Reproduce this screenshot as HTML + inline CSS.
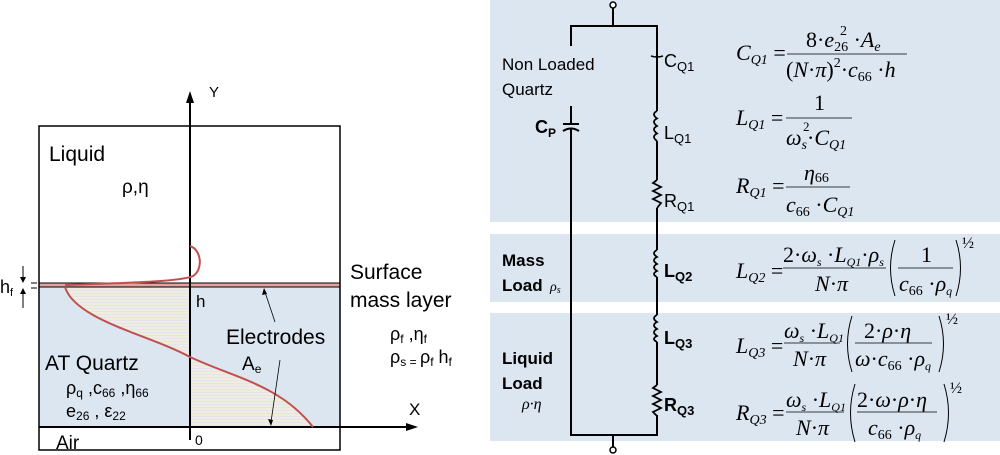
<!DOCTYPE html>
<html><head><meta charset="utf-8"><style>
html,body{margin:0;padding:0;background:#fff;}
svg{display:block;}
.s{font-family:"Liberation Sans",sans-serif;}
.m{font-family:"Liberation Serif",serif;font-style:italic;}
.n{font-family:"Liberation Serif",serif;font-style:normal;}
</style></head><body>
<svg width="1000" height="455" viewBox="0 0 1000 455" xmlns="http://www.w3.org/2000/svg">
<defs>
<pattern id="hat" width="4" height="3" patternUnits="userSpaceOnUse"><rect width="4" height="3" fill="#efece0"/><rect y="2" width="4" height="1" fill="#e4e4ea"/></pattern>
</defs>
<!-- LEFT PANEL -->
<rect x="39" y="287" width="301" height="140" fill="#dce6f1"/>
<path d="M65,287 C75,320 150,335 190,357 L190,287 Z" fill="url(#hat)"/>
<path d="M190,357 C235,378 280,385 313,427 L190,427 Z" fill="url(#hat)"/>
<rect x="39" y="283" width="301" height="4" fill="#e3a3a3"/>
<rect x="39" y="126" width="301" height="324" fill="none" stroke="#000" stroke-width="1.5"/>
<line x1="39" y1="283" x2="340" y2="283" stroke="#000" stroke-width="1"/>
<line x1="39" y1="287" x2="340" y2="287" stroke="#000" stroke-width="1"/>
<line x1="39" y1="427" x2="410" y2="427" stroke="#000" stroke-width="2"/>
<path d="M418,427 L406,423 L406,431 Z"/>
<line x1="190" y1="100" x2="190" y2="440" stroke="#000" stroke-width="2"/>
<path d="M190,91 L186,103 L194,103 Z"/>
<path d="M65,287 C75,320 150,335 190,357 C235,378 280,385 313,427" fill="none" stroke="#c0504d" stroke-width="2"/>
<path d="M65,285 C120,283 180,282 193,276 C203,270 202,250 190,246" fill="none" stroke="#c0504d" stroke-width="2"/>
<!-- hf marks -->
<line x1="31" y1="283" x2="37" y2="283" stroke="#000"/><line x1="31" y1="288" x2="37" y2="288" stroke="#000"/>
<line x1="23" y1="266" x2="23" y2="282" stroke="#000"/><path d="M23,283 L20,277 L26,277 Z"/>
<line x1="23" y1="289" x2="23" y2="308" stroke="#000"/><path d="M23,288 L20,294 L26,294 Z"/>
<text x="0" y="293" class="s" style="font-size:18px">h<tspan style="font-size:11px" dy="3">f</tspan></text>
<!-- electrode arrows -->
<line x1="275" y1="322" x2="265" y2="292" stroke="#000" stroke-width="0.8"/><path d="M264,288 L262,295 L267,294 Z"/>
<line x1="280" y1="360" x2="271" y2="422" stroke="#000" stroke-width="0.8"/><path d="M271,426 L268,419 L273,420 Z"/>
<text x="209" y="97" class="s" style="font-size:15px">Y</text>
<text x="409" y="415" class="s" style="font-size:17px">X</text>
<text x="49" y="161" class="s" style="font-size:21px">Liquid</text>
<text x="122" y="193" class="s" style="font-size:19px">ρ,η</text>
<text x="350" y="279" class="s" style="font-size:21px">Surface</text>
<text x="350" y="307" class="s" style="font-size:21px">mass layer</text>
<text x="390" y="340" class="s" style="font-size:18px">ρ<tspan style="font-size:12px" dy="3">f</tspan><tspan dy="-3"> ,η</tspan><tspan style="font-size:12px" dy="3">f</tspan></text>
<text x="390" y="363" class="s" style="font-size:18px">ρ<tspan style="font-size:12px" dy="3">s = </tspan><tspan dy="-3">ρ</tspan><tspan style="font-size:12px" dy="3">f</tspan><tspan dy="-3"> h</tspan><tspan style="font-size:12px" dy="3">f</tspan></text>
<text x="196" y="307" class="s" style="font-size:17px">h</text>
<text x="226" y="344" class="s" style="font-size:21px">Electrodes</text>
<text x="242" y="370" class="s" style="font-size:19px">A<tspan style="font-size:12px" dy="3">e</tspan></text>
<text x="45" y="370" class="s" style="font-size:21px">AT Quartz</text>
<text x="66" y="394" class="s" style="font-size:18px">ρ<tspan style="font-size:12px" dy="3">q</tspan><tspan dy="-3"> ,c</tspan><tspan style="font-size:12px" dy="3">66</tspan><tspan dy="-3"> ,η</tspan><tspan style="font-size:12px" dy="3">66</tspan></text>
<text x="66" y="417" class="s" style="font-size:18px">e<tspan style="font-size:12px" dy="3">26</tspan><tspan dy="-3"> , ε</tspan><tspan style="font-size:12px" dy="3">22</tspan></text>
<text x="56" y="449" class="s" style="font-size:19px">Air</text>
<text x="195" y="445" class="s" style="font-size:14px">0</text>

<!-- RIGHT PANEL -->
<rect x="490" y="0" width="510" height="222" fill="#dce6f1"/>
<rect x="490" y="234" width="510" height="68" fill="#dce6f1"/>
<rect x="490" y="313" width="510" height="128" fill="#dce6f1"/>
<g stroke="#000" stroke-width="2" fill="none">
<line x1="613" y1="8" x2="613" y2="26"/>
<line x1="613" y1="435" x2="613" y2="447"/>
<path d="M571,46 L571,26 L657,26 L657,57"/>
<path d="M657,57 L657,111"/>
<path d="M571,106 L571,124"/>
<line x1="563" y1="124" x2="579" y2="124"/>
<path d="M563,131 Q571,126 579,131"/>
<path d="M571,128 L571,435 L657,435 L657,415"/>
<path d="M651,56 Q657,58 663,56" stroke-width="1.5"/>
<path d="M657,141 L657,180"/><path d="M657,208 L657,250"/><path d="M657,277 L657,315"/><path d="M657,342 L657,385"/>
</g>
<circle cx="613" cy="5" r="3" fill="#fff" stroke="#000" stroke-width="1.5"/>
<circle cx="613" cy="450" r="3" fill="#fff" stroke="#000" stroke-width="1.5"/>
<g stroke="#000" stroke-width="1.8" fill="none">
<path d="M657,111 q-6,3 0,7.5 q-6,3 0,7.5 q-6,3 0,7.5 q-6,3 0,7.5"/>
<path d="M657,250 q-6,3 0,7 q-6,3 0,7 q-6,3 0,7 q-6,3 0,6"/>
<path d="M657,315 q-6,3 0,7 q-6,3 0,7 q-6,3 0,7 q-6,3 0,6"/>
<path d="M657,180 l-4,3 l8,4 l-8,4 l8,4 l-8,4 l8,4 l-4,5"/>
<path d="M657,385 l-4,3 l8,4 l-8,4 l8,4 l-8,4 l8,4 l-8,4 l4,4"/>
</g>
<text x="664" y="67" class="s" style="font-size:18px">C<tspan style="font-size:13px" dy="4">Q1</tspan></text>
<text x="664" y="139" class="s" style="font-size:18px">L<tspan style="font-size:13px" dy="4">Q1</tspan></text>
<text x="664" y="207" class="s" style="font-size:18px">R<tspan style="font-size:13px" dy="4">Q1</tspan></text>
<text x="664" y="277" class="s" style="font-size:18px;font-weight:bold">L<tspan style="font-size:13px" dy="4">Q2</tspan></text>
<text x="664" y="344" class="s" style="font-size:18px;font-weight:bold">L<tspan style="font-size:13px" dy="4">Q3</tspan></text>
<text x="664" y="411" class="s" style="font-size:18px;font-weight:bold">R<tspan style="font-size:13px" dy="4">Q3</tspan></text>
<text x="535" y="133" class="s" style="font-size:18px;font-weight:bold">C<tspan style="font-size:12px" dy="4">P</tspan></text>
<text x="502" y="70" class="s" style="font-size:17px">Non Loaded</text>
<text x="502" y="95" class="s" style="font-size:17px">Quartz</text>
<text x="502" y="266" class="s" style="font-size:17px;font-weight:bold">Mass</text>
<text x="502" y="291" class="s" style="font-size:17px;font-weight:bold">Load</text>
<text x="550" y="291" class="m" style="font-size:14px">ρ<tspan style="font-size:10px" dy="2">s</tspan></text>
<text x="502" y="364" class="s" style="font-size:17px;font-weight:bold">Liquid</text>
<text x="502" y="389" class="s" style="font-size:17px;font-weight:bold">Load</text>
<text x="522" y="409" class="m" style="font-size:16px">ρ·η</text>

<!-- formulas -->
<g class="m" style="font-size:22px">
<text x="736" y="60">C<tspan style="font-size:14px" dy="4">Q1</tspan><tspan class="n" dy="-4"> = </tspan></text>
<line x1="787" y1="54" x2="907" y2="54" stroke="#000" stroke-width="0.8"/>
<text x="806" y="47"><tspan class="n">8·</tspan>e<tspan class="n" style="font-size:14px" dy="4">26</tspan><tspan class="n" dy="-4"> ·</tspan>A<tspan style="font-size:14px" dy="4">e</tspan></text>
<text x="840" y="35" class="n" style="font-size:14px">2</text>
<text x="786" y="77"><tspan class="n">(</tspan>N<tspan class="n">·</tspan>π<tspan class="n">)</tspan><tspan class="n" style="font-size:14px" dy="-10">2</tspan><tspan class="n" dy="10">·</tspan>c<tspan class="n" style="font-size:14px" dy="4">66</tspan><tspan class="n" dy="-4"> ·</tspan>h</text>

<text x="736" y="125">L<tspan style="font-size:14px" dy="4">Q1</tspan><tspan class="n" dy="-4"> = </tspan></text>
<line x1="786" y1="118" x2="852" y2="118" stroke="#000" stroke-width="0.8"/>
<text x="814" y="110" class="n">1</text>
<text x="786" y="145">ω<tspan style="font-size:14px" dy="4">s</tspan><tspan class="n" dy="-4">·</tspan>C<tspan style="font-size:14px" dy="4">Q1</tspan></text>
<text x="803" y="131" class="n" style="font-size:13px">2</text>

<text x="736" y="193">R<tspan style="font-size:14px" dy="4">Q1</tspan><tspan class="n" dy="-4"> = </tspan></text>
<line x1="786" y1="187" x2="850" y2="187" stroke="#000" stroke-width="0.8"/>
<text x="804" y="180">η<tspan class="n" style="font-size:14px" dy="2">66</tspan></text>
<text x="786" y="212">c<tspan class="n" style="font-size:14px" dy="4">66</tspan><tspan class="n" dy="-4"> ·</tspan>C<tspan style="font-size:14px" dy="4">Q1</tspan></text>

<text x="736" y="278">L<tspan style="font-size:14px" dy="4">Q2</tspan><tspan class="n" dy="-4"> = </tspan></text>
<line x1="783" y1="268" x2="886" y2="268" stroke="#000" stroke-width="0.8"/>
<text x="783" y="262"><tspan class="n">2·</tspan>ω<tspan style="font-size:12px" dy="4">s</tspan><tspan class="n" dy="-4"> ·</tspan>L<tspan style="font-size:12px" dy="4">Q1</tspan><tspan class="n" dy="-4">·</tspan>ρ<tspan style="font-size:12px" dy="4">s</tspan></text>
<text x="815" y="291">N<tspan class="n">·</tspan>π</text>
<path d="M895,240 Q886,268 895,296" stroke="#000" fill="none"/>
<line x1="898" y1="268" x2="953" y2="268" stroke="#000" stroke-width="0.8"/>
<text x="921" y="262" class="n">1</text>
<text x="899" y="291">c<tspan class="n" style="font-size:14px" dy="4">66</tspan><tspan class="n" dy="-4"> ·</tspan>ρ<tspan style="font-size:12px" dy="4">q</tspan></text>
<path d="M956,240 Q965,268 956,296" stroke="#000" fill="none"/>
<text x="962" y="248" class="n" style="font-size:16px">½</text>

<text x="736" y="353">L<tspan style="font-size:14px" dy="4">Q3</tspan><tspan class="n" dy="-4"> = </tspan></text>
<line x1="784" y1="343" x2="840" y2="343" stroke="#000" stroke-width="0.8"/>
<text x="784" y="338">ω<tspan style="font-size:12px" dy="4">s</tspan><tspan class="n" dy="-4"> ·</tspan>L<tspan style="font-size:12px" dy="4">Q1</tspan></text>
<text x="793" y="366">N<tspan class="n">·</tspan>π</text>
<path d="M852,316 Q843,344 852,372" stroke="#000" fill="none"/>
<line x1="855" y1="343" x2="932" y2="343" stroke="#000" stroke-width="0.8"/>
<text x="864" y="338"><tspan class="n">2·</tspan>ρ<tspan class="n">·</tspan>η</text>
<text x="855" y="366">ω<tspan class="n">·</tspan>c<tspan class="n" style="font-size:14px" dy="4">66</tspan><tspan class="n" dy="-4"> ·</tspan>ρ<tspan style="font-size:12px" dy="4">q</tspan></text>
<path d="M939,316 Q948,344 939,372" stroke="#000" fill="none"/>
<text x="946" y="324" class="n" style="font-size:16px">½</text>

<text x="736" y="420">R<tspan style="font-size:14px" dy="4">Q3</tspan><tspan class="n" dy="-4"> = </tspan></text>
<line x1="786" y1="412" x2="844" y2="412" stroke="#000" stroke-width="0.8"/>
<text x="786" y="407">ω<tspan style="font-size:12px" dy="4">s</tspan><tspan class="n" dy="-4"> ·</tspan>L<tspan style="font-size:12px" dy="4">Q1</tspan></text>
<text x="796" y="435">N<tspan class="n">·</tspan>π</text>
<path d="M855,384 Q846,413 855,442" stroke="#000" fill="none"/>
<line x1="857" y1="412" x2="937" y2="412" stroke="#000" stroke-width="0.8"/>
<text x="857" y="407"><tspan class="n">2·</tspan>ω<tspan class="n">·</tspan>ρ<tspan class="n">·</tspan>η</text>
<text x="868" y="435">c<tspan class="n" style="font-size:14px" dy="4">66</tspan><tspan class="n" dy="-4"> ·</tspan>ρ<tspan style="font-size:12px" dy="4">q</tspan></text>
<path d="M944,384 Q953,413 944,442" stroke="#000" fill="none"/>
<text x="950" y="393" class="n" style="font-size:16px">½</text>
</g>
</svg>
</body></html>
